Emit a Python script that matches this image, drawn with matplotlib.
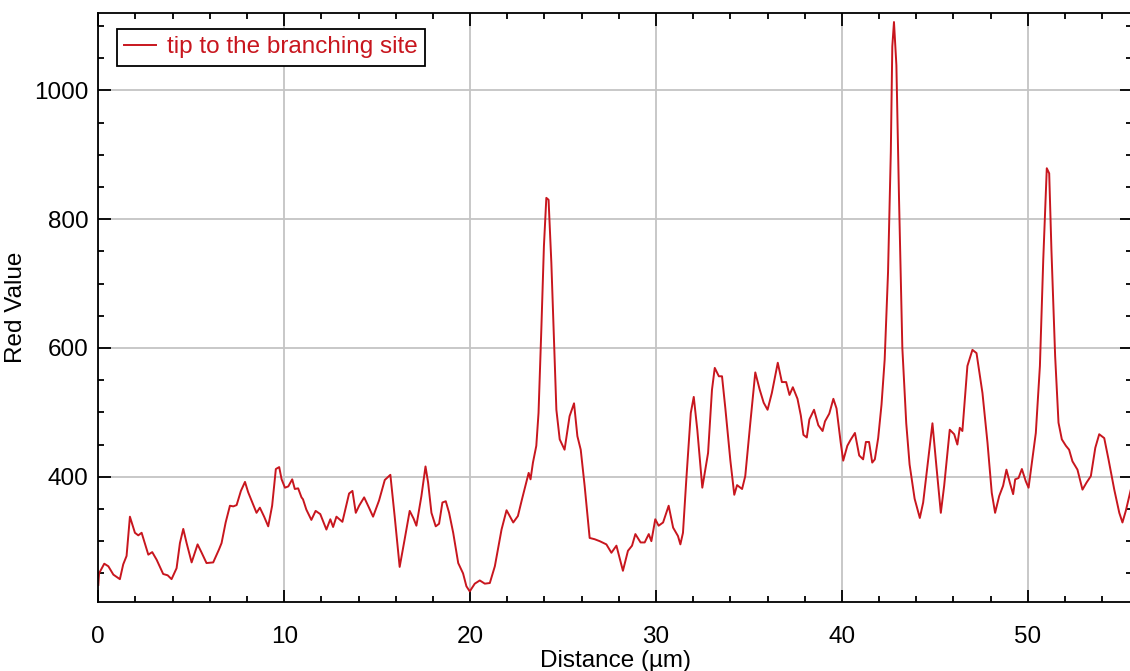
import matplotlib.pyplot as plt
from matplotlib.ticker import MultipleLocator

plt.rcParams['font.family'] = ['Liberation Sans', 'DejaVu Sans']

# profile
distance = [
    0.00, 0.04, 0.32, 0.54, 0.81, 1.16, 1.34, 1.52, 1.70, 1.97, 2.15, 2.33, 2.69, 2.90,
    3.14, 3.49, 3.73, 3.94, 4.21, 4.39, 4.57, 4.75, 5.02, 5.34, 5.56, 5.82, 6.18, 6.49,
    6.63, 6.85, 7.08, 7.26, 7.44, 7.67, 7.89, 8.06, 8.33, 8.51, 8.69, 8.92, 9.14, 9.35,
    9.55, 9.73, 9.86, 10.04, 10.22, 10.43, 10.57, 10.75, 10.93,
    11.01, 11.19, 11.46, 11.69, 11.94, 12.27, 12.48, 12.63, 12.81, 13.13, 13.49, 13.67,
    13.85, 14.03, 14.30, 14.56, 14.78, 15.10, 15.41, 15.71, 15.94, 16.21, 16.48, 16.75,
    16.96, 17.11, 17.38, 17.60, 17.74, 17.92, 18.15, 18.33, 18.51, 18.69, 18.87, 19.09,
    19.36, 19.62, 19.80, 19.98, 20.25, 20.52, 20.79, 21.06, 21.33, 21.69, 21.96, 22.32,
    22.57, 22.79, 23.02, 23.15, 23.25, 23.38, 23.56, 23.68, 23.83, 23.97, 24.10, 24.22,
    24.37, 24.51, 24.64, 24.82, 25.08, 25.35, 25.59, 25.77, 25.95, 26.16, 26.43, 26.70,
    26.97, 27.33, 27.60, 27.87, 28.04, 28.22, 28.49, 28.71, 28.89, 29.17, 29.39, 29.61,
    29.75, 29.96, 30.14, 30.38, 30.68, 30.92, 31.18, 31.31, 31.45, 31.63, 31.87, 32.03,
    32.22, 32.49, 32.80, 33.01, 33.16,
    33.38, 33.55, 33.73, 34.00, 34.21, 34.36, 34.63, 34.80, 35.07, 35.34, 35.57, 35.79,
    36.00, 36.23, 36.55, 36.77, 37.00, 37.18, 37.36, 37.61, 37.79, 37.93, 38.11, 38.25,
    38.50, 38.73, 38.96, 39.09, 39.32, 39.54, 39.71, 39.93, 40.07, 40.29, 40.46, 40.70,
    40.93, 41.14, 41.29, 41.46, 41.63, 41.77, 41.95, 42.13, 42.30, 42.48, 42.63, 42.71,
    42.80, 42.93, 43.07, 43.25, 43.46, 43.64, 43.91,
    44.19, 44.37, 44.60, 44.87, 45.08, 45.32, 45.50, 45.80, 46.04, 46.21, 46.34, 46.48,
    46.75, 47.02, 47.24, 47.56, 47.83, 48.06, 48.24, 48.46, 48.67, 48.85, 49.03, 49.21,
    49.32, 49.50, 49.68, 49.89, 50.04, 50.22, 50.43, 50.65, 50.83, 51.02, 51.15, 51.27,
    51.47, 51.65, 51.83, 52.05, 52.22, 52.40, 52.67, 52.94, 53.16, 53.39, 53.63, 53.84,
    54.11, 54.34, 54.65, 54.92, 55.09, 55.27, 55.54,
]
red_value = [
    232, 250, 265, 261, 248, 241, 264, 277, 338, 313, 309, 313, 279, 283,
    271, 249, 247, 241, 258, 297, 319, 297, 267, 295, 282, 266, 267, 287,
    297, 329, 355, 354, 356, 378, 392, 376, 357, 344, 352, 338, 323, 355,
    412, 415, 396, 383, 385, 396, 381, 382, 368,
    365, 349, 333, 347, 342, 318, 334, 322, 338, 330, 374, 378,
    344, 355, 368, 352, 338, 363, 395, 403, 339, 260, 303, 347,
    335, 324, 370, 416, 391, 344, 323, 327, 360, 362, 344, 313,
    266, 250, 230, 222, 234, 239, 234, 235, 261, 318, 348, 329,
    339, 365, 391, 406, 396, 422, 448, 499, 628, 758, 833, 830,
    732, 613, 504, 458, 442, 494, 514, 463, 442, 386, 305, 303,
    300, 295, 282, 293, 274, 254, 285, 293, 311, 298, 298, 311,
    300, 334, 324, 329, 355, 321, 308, 295, 313, 396, 499, 524,
    473, 383, 437, 535, 569,
    556, 556, 506, 425, 372, 387, 381, 401, 483, 562, 536, 515,
    504, 530, 577, 547, 547, 527, 539, 521, 495, 465, 461, 489,
    504, 480, 471, 486, 498, 521, 506, 454, 425, 448, 457, 468,
    433, 427, 454, 454, 422, 427, 460, 512, 582, 717, 904, 1068,
    1106, 1039, 834, 600, 483, 419, 366,
    336, 360, 417, 483, 417, 344, 386, 473, 466, 450, 476, 471,
    572, 597, 592, 530, 453, 375, 344, 370, 386, 411, 391, 373,
    396, 398, 412, 393, 383, 422, 468, 572, 737, 879, 871, 752,
    587, 484, 458, 448, 442, 424, 411, 380, 391, 401, 445, 466,
    460, 427, 380, 344, 329, 347, 380,
]

line_color = '#c8161e'
fs = 17.5

fig = plt.figure(figsize=(11.3, 6.71), dpi=100)
ax = fig.add_axes([0.087, 0.1028, 0.9152, 0.8778])

ax.plot(distance, red_value, color=line_color, lw=1.4, label='tip to the branching site')

ax.set_xlim(0, 55.63)
ax.set_ylim(205.5, 1120)
ax.xaxis.set_major_locator(MultipleLocator(10))
ax.xaxis.set_minor_locator(MultipleLocator(2))
ax.yaxis.set_major_locator(MultipleLocator(200))
ax.yaxis.set_minor_locator(MultipleLocator(50))

ax.grid(True, which='major', color='#c4c4c4', lw=1.3)
ax.set_axisbelow(True)

ax.tick_params(which='both', direction='in', top=True, right=True, width=1.3, labelsize=fs)
ax.tick_params(which='major', length=9)
ax.tick_params(which='minor', length=4.3)
ax.tick_params(axis='x', pad=17.5)
ax.tick_params(axis='y', pad=7)
for sp in ax.spines.values():
    sp.set_linewidth(1.3)

ax.set_xlabel('Distance (µm)', fontsize=fs, labelpad=1.5)
ax.set_ylabel('Red Value', fontsize=fs, labelpad=5)

leg = ax.legend(loc='upper left', bbox_to_anchor=(0.018, 0.973), borderaxespad=0,
                fontsize=fs, fancybox=False, framealpha=1, edgecolor='black',
                handlelength=1.3, handletextpad=0.45, borderpad=0.3)
leg.get_frame().set_linewidth(1.3)
for t in leg.get_texts():
    t.set_color(line_color)

fig.savefig('out.png', dpi=100)
